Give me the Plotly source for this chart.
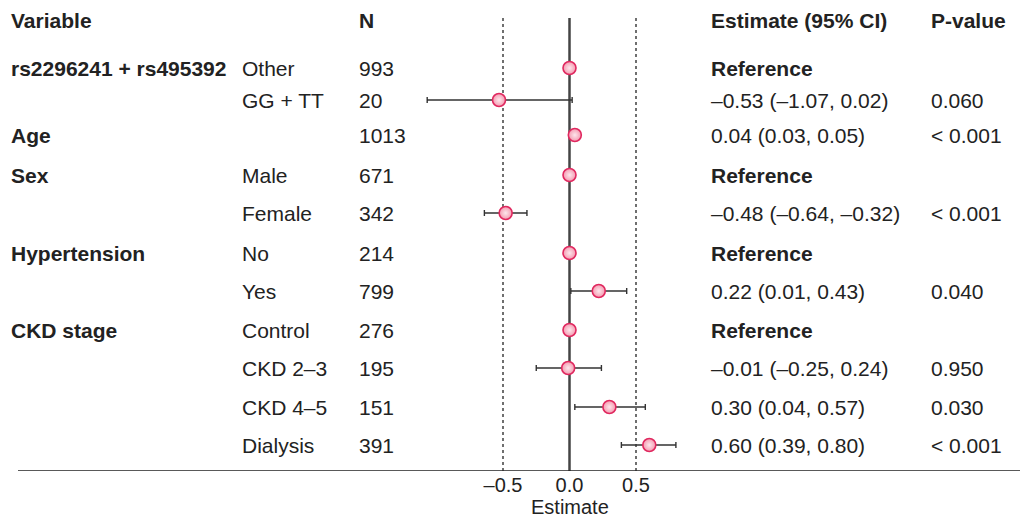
import plotly.graph_objects as go

# ---- data ----
variables = ["rs2296241 + rs495392", "", "Age", "Sex", "", "Hypertension", "", "CKD stage", "", "", ""]
subgroups = ["Other", "GG + TT", "", "Male", "Female", "No", "Yes", "Control", "CKD 2–3", "CKD 4–5", "Dialysis"]
n_vals = [993, 20, 1013, 671, 342, 214, 799, 276, 195, 151, 391]
estimates = [0, -0.53, 0.04, 0, -0.48, 0, 0.22, 0, -0.01, 0.30, 0.60]
ci_low = [0, -1.07, 0.03, 0, -0.64, 0, 0.01, 0, -0.25, 0.04, 0.39]
ci_high = [0, 0.02, 0.05, 0, -0.32, 0, 0.43, 0, 0.24, 0.57, 0.80]
est_text = ["Reference", "–0.53 (–1.07, 0.02)", "0.04 (0.03, 0.05)", "Reference",
            "–0.48 (–0.64, –0.32)", "Reference", "0.22 (0.01, 0.43)", "Reference",
            "–0.01 (–0.25, 0.24)", "0.30 (0.04, 0.57)", "0.60 (0.39, 0.80)"]
p_values = ["", "0.060", "< 0.001", "", "< 0.001", "", "0.040", "", "0.950", "0.030", "< 0.001"]
is_reference = [True, False, False, True, False, True, False, True, False, False, False]
headers = ["Variable", "", "N", "Estimate (95% CI)", "P-value"]
tick_vals = [-0.5, 0.0, 0.5]
tick_text = ["–0.5", "0.0", "0.5"]
axis_title = "Estimate"

# ---- layout geometry (pixels) ----
W, H = 1020, 519
plot_bottom = 471
row_y = [68, 100, 135, 175, 213, 253, 291, 330, 368, 407, 445]
header_y = 20
col_x = [12, 243, 360, 712, 932]
zero_px = 569.5
px_per_unit = 133.0
x_range = [-zero_px / px_per_unit, (W - zero_px) / px_per_unit]

FONT = "Liberation Sans, Arial, Helvetica, sans-serif"
FS = 21
FS_AXIS = 20
TXT = "#222222"

fig = go.Figure()

err_plus = [h - e for h, e in zip(ci_high, estimates)]
err_minus = [e - l for e, l in zip(estimates, ci_low)]

fig.add_trace(go.Scatter(
    x=estimates, y=row_y, mode="markers",
    marker=dict(size=13, color="#f49ab0", line=dict(color="#e0285f", width=1.6),
                gradient=dict(type="radial", color="#fde6ec")),
    error_x=dict(type="data", symmetric=False, array=err_plus, arrayminus=err_minus,
                 color="#333333", thickness=1.4, width=3),
    hoverinfo="skip", showlegend=False,
))

# reference lines
fig.add_shape(type="line", xref="x", yref="y", x0=0, x1=0, y0=18, y1=plot_bottom,
              line=dict(color="#444444", width=2.5), layer="below")
for v in (-0.5, 0.5):
    fig.add_shape(type="line", xref="x", yref="y", x0=v, x1=v, y0=18, y1=plot_bottom,
                  line=dict(color="#333333", width=1.4, dash="dot"), layer="below")
# bottom rule
fig.add_shape(type="line", xref="paper", yref="y", x0=18 / W, x1=1, y0=plot_bottom, y1=plot_bottom,
              line=dict(color="#222222", width=1.5))

def ann(x, y, text, bold=False, xanchor="left", xref="paper", yref="y", yanchor="middle", size=FS):
    fig.add_annotation(x=(x / W if xref == "paper" else x), xref=xref, y=y, yref=yref,
                       text=(f"<b>{text}</b>" if bold else text),
                       showarrow=False, xanchor=xanchor, yanchor=yanchor,
                       xshift=(-2 if xanchor == "left" else 0),
                       borderpad=0,
                       font=dict(family=FONT, size=size, color=TXT))

for cx, h in zip(col_x, headers):
    if h:
        ann(cx, header_y, h, bold=True)

for i, y in enumerate(row_y):
    if variables[i]:
        ann(col_x[0], y, variables[i], bold=True)
    if subgroups[i]:
        ann(col_x[1], y, subgroups[i])
    ann(col_x[2], y, str(n_vals[i]))
    ann(col_x[3], y, est_text[i], bold=is_reference[i])
    if p_values[i]:
        ann(col_x[4], y, p_values[i])

# axis title (paper y at the bottom edge of the figure)
ann(0, (plot_bottom - H) / plot_bottom, axis_title, xanchor="center", xref="x", yref="paper",
    yanchor="bottom", size=FS_AXIS)

fig.update_layout(
    width=W, height=H,
    margin=dict(l=0, r=0, t=0, b=H - plot_bottom),
    paper_bgcolor="white", plot_bgcolor="white",
    xaxis=dict(range=x_range, domain=[0, 1], showgrid=False, zeroline=False, showline=False,
               tickvals=tick_vals, ticktext=tick_text, ticks="",
               tickfont=dict(family=FONT, size=FS_AXIS, color=TXT),
               fixedrange=True),
    yaxis=dict(range=[plot_bottom, 0], domain=[0, 1], showgrid=False, zeroline=False,
               showline=False, showticklabels=False, fixedrange=True),
    font=dict(family=FONT, color=TXT),
)

fig.write_html("out.html", config={"displayModeBar": False},
               post_script="document.body.style.margin='0';document.body.style.overflow='hidden';")
